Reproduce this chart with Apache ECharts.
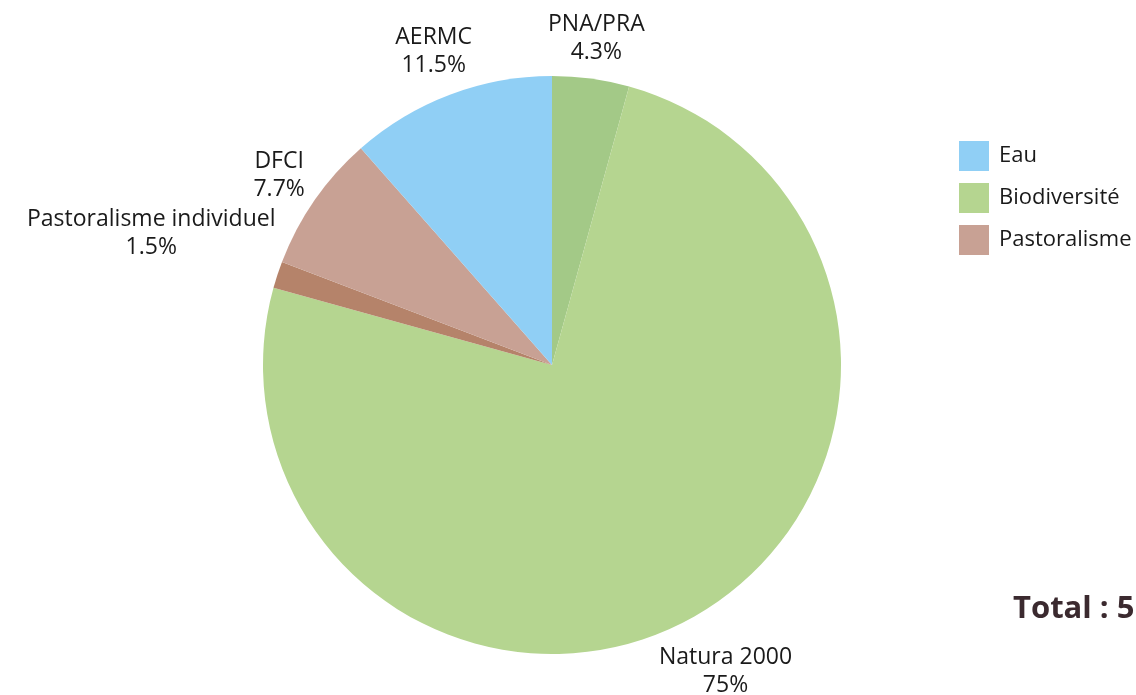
<!DOCTYPE html>
<html>
<head>
<meta charset="utf-8">
<script src="https://cdn.jsdelivr.net/npm/echarts@6/dist/echarts.min.js"></script>
<style>
  html, body { margin: 0; padding: 0; background: #fff; }
  #chart { width: 1136px; height: 695px; }
</style>
</head>
<body>
<div id="chart"></div>
<script>
// slices, clockwise from the top
const sliceNames = ['PNA/PRA', 'Natura 2000', 'Pastoralisme individuel', 'DFCI', 'AERMC'];
const sliceValues = [4.3, 75, 1.5, 7.7, 11.5];
const sliceColors = ['#a3c987', '#b5d590', '#b5836a', '#c8a194', '#90cff5'];

// legend groups
const groupNames = ['Eau', 'Biodiversité', 'Pastoralisme'];
const groupValues = [11.5, 79.3, 9.2];
const groupColors = ['#90cff5', '#b5d590', '#c8a194'];

const totalText = 'Total : 5';

const cx = 552, cy = 365, radius = 289;
const font = 'Open Sans';

// mid angle of each slice (radians, from top, clockwise)
const sum = sliceValues.reduce((a, b) => a + b, 0);
const midAngles = [];
let acc = 0;
sliceValues.forEach(function (v) {
  midAngles.push((acc + v / 2) / sum * Math.PI * 2);
  acc += v;
});

const legendText = { fontFamily: font, fontSize: 22, color: '#1a1a1a', padding: [0, 0, 0, 5] };

const chart = echarts.init(document.getElementById('chart'));

chart.setOption({
  animation: false,
  title: {
    text: totalText,
    left: 1008,
    top: 589,
    textStyle: { fontFamily: font, fontSize: 31, fontWeight: 'bold', color: '#3b2a2f' }
  },
  legend: {
    orient: 'vertical',
    left: 954,
    top: 136,
    itemWidth: 30,
    itemHeight: 30,
    itemGap: 12,
    icon: 'rect',
    selectedMode: false,
    data: groupNames.map(function (n) { return { name: n, textStyle: legendText }; }),
    textStyle: legendText
  },
  series: [
    {
      type: 'pie',
      center: [cx, cy],
      radius: radius,
      startAngle: 90,
      clockwise: true,
      silent: true,
      data: sliceNames.map(function (n, i) {
        return { name: n, value: sliceValues[i], itemStyle: { color: sliceColors[i] } };
      }),
      label: {
        show: true,
        position: 'outside',
        overflow: 'none',
        formatter: function (p) { return p.name + '\n' + p.value + '%'; },
        fontFamily: font,
        fontSize: 23,
        lineHeight: 28,
        color: '#1a1a1a',
        align: 'center'
      },
      labelLine: { show: false },
      labelLayout: function (params) {
        const a = midAngles[params.dataIndex];
        const ux = Math.sin(a), uy = -Math.cos(a);
        const w = params.labelRect.width, h = params.labelRect.height;
        const d = radius + 6 + Math.abs(ux) * w / 2 + Math.abs(uy) * h / 2;
        return {
          x: cx + ux * d,
          y: cy + uy * d,
          align: 'center',
          verticalAlign: 'middle'
        };
      }
    },
    {
      // legend entries only
      type: 'pie',
      center: [cx, cy],
      radius: 0,
      silent: true,
      label: { show: false },
      labelLine: { show: false },
      data: groupNames.map(function (n, i) {
        return { name: n, value: groupValues[i], itemStyle: { color: groupColors[i] } };
      })
    }
  ]
});
</script>
</body>
</html>
